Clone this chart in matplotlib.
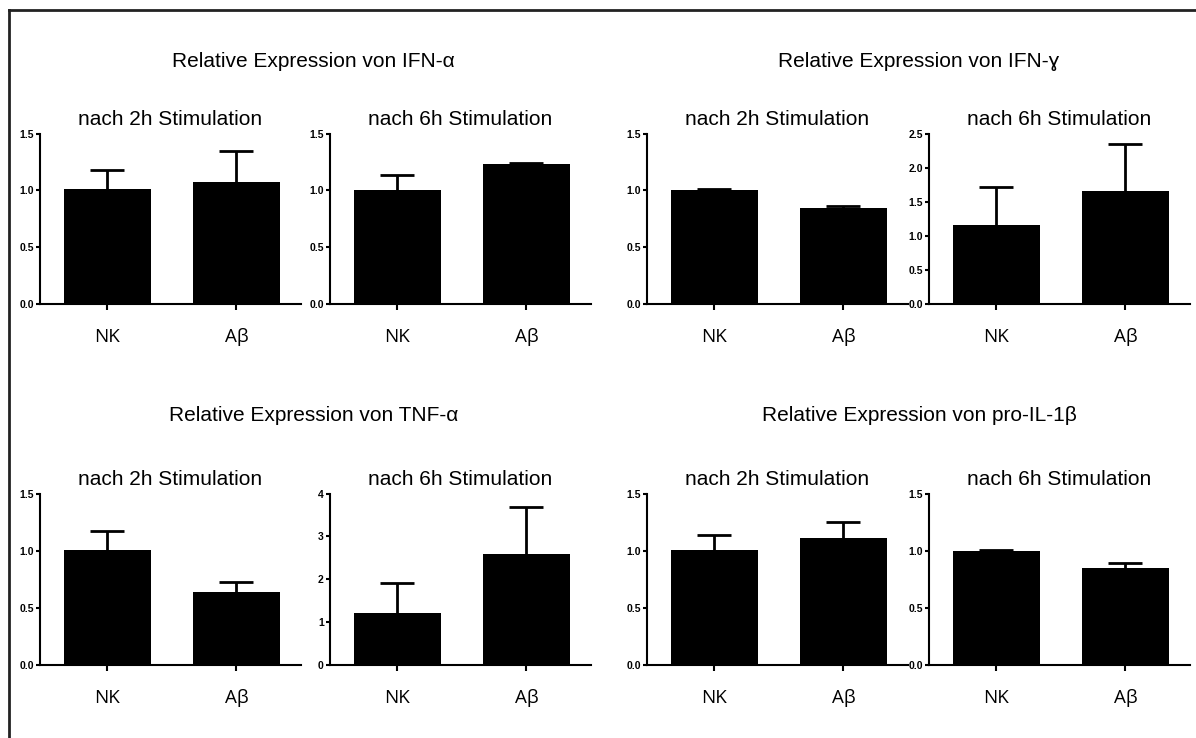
import matplotlib
matplotlib.use("Agg")
import matplotlib.pyplot as plt
from matplotlib.lines import Line2D

# --- data -------------------------------------------------------------
categories = ["NK", "Aβ"]
group_titles = [
    "Relative Expression von IFN-α",
    "Relative Expression von IFN-ɣ",
    "Relative Expression von TNF-α",
    "Relative Expression von pro-IL-1β",
]
panel_titles = ["nach 2h Stimulation", "nach 6h Stimulation"]

ifna_2h_mean = [1.01, 1.07]
ifna_2h_err = [0.17, 0.28]
ifna_6h_mean = [1.00, 1.23]
ifna_6h_err = [0.13, 0.01]

ifng_2h_mean = [1.00, 0.84]
ifng_2h_err = [0.01, 0.02]
ifng_6h_mean = [1.15, 1.66]
ifng_6h_err = [0.57, 0.69]

tnfa_2h_mean = [1.01, 0.64]
tnfa_2h_err = [0.16, 0.085]
tnfa_6h_mean = [1.22, 2.59]
tnfa_6h_err = [0.69, 1.10]

il1b_2h_mean = [1.01, 1.11]
il1b_2h_err = [0.13, 0.14]
il1b_6h_mean = [1.00, 0.845]
il1b_6h_err = [0.005, 0.045]

ticks_15 = [0.0, 0.5, 1.0, 1.5]
ticks_25 = [0.0, 0.5, 1.0, 1.5, 2.0, 2.5]
ticks_4 = [0, 1, 2, 3, 4]
labels_15 = ["0.0", "0.5", "1.0", "1.5"]
labels_25 = ["0.0", "0.5", "1.0", "1.5", "2.0", "2.5"]
labels_4 = ["0", "1", "2", "3", "4"]

# --- layout -----------------------------------------------------------
W, H = 1196, 738
fig = plt.figure(figsize=(W / 100, H / 100), dpi=100)
fig.patch.set_facecolor("white")

SANS = ["Liberation Sans", "DejaVu Sans"]
LABEL_FONT = ["Open Sans", "DejaVu Sans"]


def px_axes(left, top, bottom, width=261):
    return fig.add_axes([left / W, 1 - bottom / H, width / W, (bottom - top) / H])


def bar_panel(ax, means, errs, ymax, ticks, labels, title):
    x = list(range(len(categories)))
    ax.bar(x, means, width=0.675, color="black", zorder=2)
    # upper error only: drop the lower cap that would sit on the bar top
    _, caps, _ = ax.errorbar(x, means, yerr=[[0] * len(errs), errs], fmt="none",
                             ecolor="black", elinewidth=2.0, capsize=12.5,
                             capthick=2.0, zorder=1)
    caps[0].set_visible(False)
    ax.set_xlim(-0.52, 1.5)
    ax.set_ylim(0, ymax)
    ax.set_yticks(ticks)
    ax.set_yticklabels(labels, fontsize=7.5, fontweight="bold", family=SANS)
    ax.set_xticks(x)
    ax.set_xticklabels(categories, fontsize=13.5, family=LABEL_FONT)
    for lbl in ax.get_xticklabels():
        lbl.set_verticalalignment("baseline")
    for s in ("top", "right"):
        ax.spines[s].set_visible(False)
    for s in ("left", "bottom"):
        ax.spines[s].set_linewidth(1.5)
    ax.tick_params(axis="y", length=3, width=1.5, pad=1.5)
    ax.tick_params(axis="x", length=4, width=1.5, pad=23.5)
    ax.set_title(title, fontsize=15, family=SANS, pad=6)


lefts = [40, 330, 647, 929]
top_row = (133.5, 303.5)
bot_row = (493.5, 665)

panels = [
    (lefts[0], top_row, ifna_2h_mean, ifna_2h_err, 1.5, ticks_15, labels_15, panel_titles[0]),
    (lefts[1], top_row, ifna_6h_mean, ifna_6h_err, 1.5, ticks_15, labels_15, panel_titles[1]),
    (lefts[2], top_row, ifng_2h_mean, ifng_2h_err, 1.5, ticks_15, labels_15, panel_titles[0]),
    (lefts[3], top_row, ifng_6h_mean, ifng_6h_err, 2.5, ticks_25, labels_25, panel_titles[1]),
    (lefts[0], bot_row, tnfa_2h_mean, tnfa_2h_err, 1.5, ticks_15, labels_15, panel_titles[0]),
    (lefts[1], bot_row, tnfa_6h_mean, tnfa_6h_err, 4, ticks_4, labels_4, panel_titles[1]),
    (lefts[2], bot_row, il1b_2h_mean, il1b_2h_err, 1.5, ticks_15, labels_15, panel_titles[0]),
    (lefts[3], bot_row, il1b_6h_mean, il1b_6h_err, 1.5, ticks_15, labels_15, panel_titles[1]),
]

for left, (top, bottom), means, errs, ymax, ticks, labels, title in panels:
    ax = px_axes(left, top, bottom)
    bar_panel(ax, means, errs, ymax, ticks, labels, title)

# group headings over each pair of panels
heading_pos = [(313.5, 67), (919, 67), (313.5, 421), (919, 421)]
for text, (cx, cy) in zip(group_titles, heading_pos):
    fig.text(cx / W, 1 - cy / H, text, ha="center", va="baseline",
             fontsize=15, family=SANS)

# frame lines along the left and top edges
fig.add_artist(Line2D([9 / W, 9 / W], [0, 1 - 9.5 / H], transform=fig.transFigure,
                      color="#222222", linewidth=2.0))
fig.add_artist(Line2D([9 / W, 1], [1 - 9.5 / H, 1 - 9.5 / H], transform=fig.transFigure,
                      color="#222222", linewidth=2.0))

fig.savefig("out.png", dpi=100, facecolor="white")
